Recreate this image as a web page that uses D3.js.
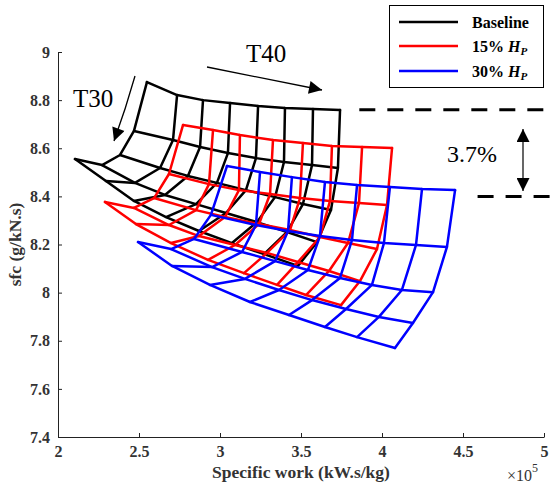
<!DOCTYPE html>
<html>
<head>
<meta charset="utf-8">
<script src="https://cdn.jsdelivr.net/npm/d3@7"></script>
<style>
  body { margin: 0; background: #fff; }
  svg { display: block; font-family: "Liberation Serif", "Times New Roman", serif; }
  .tick text { font-weight: bold; font-size: 16px; }
  .lbl { font-weight: bold; font-size: 17.5px; }
</style>
</head>
<body>
<div id="chart"></div>
<script>
// sfc vs specific work carpets (rows = constant T30, columns = constant T40)

const xTicks = [2, 2.5, 3, 3.5, 4, 4.5, 5];
const yTicks = [7.4, 7.6, 7.8, 8, 8.2, 8.4, 8.6, 8.8, 9];

// Baseline
const baseSW = [
  [2.549, 2.735, 2.895, 3.062, 3.235, 3.401, 3.574, 3.741],
  [2.469, 2.710, 2.877, 3.049, 3.222, 3.395, 3.568, 3.728],
  [2.383, 2.630, 2.802, 2.981, 3.160, 3.340, 3.512, 3.685],
  [2.272, 2.475, 2.660, 2.852, 3.037, 3.228, 3.414, 3.599],
  [2.105, 2.296, 2.469, 2.667, 2.870, 3.074, 3.272, 3.481]
];
const baseSFC = [
  [8.875, 8.821, 8.800, 8.788, 8.776, 8.767, 8.763, 8.759],
  [8.672, 8.634, 8.605, 8.580, 8.559, 8.543, 8.530, 8.518],
  [8.572, 8.518, 8.485, 8.456, 8.426, 8.397, 8.368, 8.343],
  [8.530, 8.456, 8.406, 8.368, 8.331, 8.293, 8.252, 8.210],
  [8.555, 8.464, 8.381, 8.314, 8.256, 8.206, 8.160, 8.111]
];

// 15% H_P
const h15SW = [
  [2.772, 2.957, 3.123, 3.327, 3.512, 3.691, 3.877, 4.062],
  [2.685, 2.932, 3.117, 3.309, 3.494, 3.679, 3.858, 4.031],
  [2.593, 2.852, 3.031, 3.241, 3.432, 3.617, 3.790, 3.969],
  [2.469, 2.685, 2.870, 3.093, 3.290, 3.481, 3.673, 3.864],
  [2.290, 2.481, 2.698, 2.926, 3.148, 3.352, 3.531, 3.747]
];
const h15SFC = [
  [8.697, 8.676, 8.655, 8.634, 8.622, 8.609, 8.605, 8.601],
  [8.493, 8.451, 8.426, 8.410, 8.393, 8.381, 8.372, 8.364],
  [8.393, 8.343, 8.314, 8.285, 8.260, 8.231, 8.206, 8.181],
  [8.352, 8.281, 8.235, 8.198, 8.165, 8.127, 8.090, 8.048],
  [8.377, 8.285, 8.206, 8.136, 8.081, 8.032, 7.990, 7.948]
];

// 30% H_P
const h30SW = [
  [3.043, 3.247, 3.444, 3.648, 3.846, 4.049, 4.247, 4.451],
  [2.944, 3.222, 3.420, 3.617, 3.815, 4.012, 4.210, 4.401],
  [2.840, 3.136, 3.340, 3.543, 3.741, 3.938, 4.123, 4.315],
  [2.698, 2.951, 3.154, 3.364, 3.568, 3.778, 3.981, 4.191],
  [2.494, 2.704, 2.938, 3.185, 3.426, 3.648, 3.846, 4.080]
];
const h30SFC = [
  [8.526, 8.501, 8.480, 8.460, 8.447, 8.439, 8.431, 8.426],
  [8.323, 8.281, 8.256, 8.235, 8.219, 8.206, 8.198, 8.190],
  [8.223, 8.169, 8.131, 8.094, 8.061, 8.032, 8.011, 8.002],
  [8.181, 8.106, 8.057, 8.011, 7.969, 7.932, 7.899, 7.874],
  [8.210, 8.111, 8.032, 7.961, 7.907, 7.857, 7.815, 7.770]
];

const carpets = [
  { name: "Baseline", color: "#000000", sw: baseSW, sfc: baseSFC },
  { name: "15%", color: "#ff0000", sw: h15SW, sfc: h15SFC },
  { name: "30%", color: "#0000ff", sw: h30SW, sfc: h30SFC }
];

// 3.7% reference levels
const refLevels = [{ sfc: 8.76, from: 3.86 }, { sfc: 8.40, from: 4.59 }];

const W = 553, H = 489;
const svg = d3.select("#chart").append("svg").attr("width", W).attr("height", H);

const x = d3.scaleLinear().domain([2, 5]).range([58, 544]);
const y = d3.scaleLinear().domain([7.4, 9]).range([437, 52]);

// axes (MATLAB style, inward ticks, box off)
const gx = svg.append("g").attr("transform", `translate(0,${y(7.4)})`)
  .call(d3.axisBottom(x).tickValues(xTicks).tickFormat(d3.format("~g")).tickSizeInner(-4).tickSizeOuter(0).tickPadding(9));
const gy = svg.append("g").attr("transform", `translate(${x(2)},0)`)
  .call(d3.axisLeft(y).tickValues(yTicks).tickFormat(d3.format("~g")).tickSizeInner(-4).tickSizeOuter(0).tickPadding(8));
[gx, gy].forEach(g => {
  g.selectAll("path, line").attr("stroke", "#222");
  g.selectAll("text").attr("fill", "#333").style("font-family", "Liberation Serif, serif");
});

svg.append("text").attr("class", "lbl").attr("text-anchor", "middle")
  .attr("x", (x(2) + x(5)) / 2).attr("y", 478).attr("fill", "#333").text("Specific work (kW.s/kg)");
svg.append("text").attr("class", "lbl").attr("text-anchor", "middle")
  .attr("transform", `translate(21,${(y(7.4) + y(9)) / 2}) rotate(-90)`).attr("fill", "#333").text("sfc (g/kN.s)");
const exp = svg.append("text").attr("x", 507).attr("y", 481).attr("font-size", 16).attr("fill", "#333");
exp.append("tspan").text("×10");
exp.append("tspan").attr("font-size", 12).attr("dy", -9).text("5");

// carpets
const line = d3.line().x(d => x(d[0])).y(d => y(d[1]));
carpets.forEach(c => {
  const g = svg.append("g").attr("fill", "none").attr("stroke", c.color)
    .attr("stroke-width", 2.5).attr("stroke-linejoin", "round").attr("stroke-linecap", "round");
  const rows = c.sw.map((r, j) => r.map((v, i) => [v, c.sfc[j][i]]));
  const cols = c.sw[0].map((_, i) => rows.map(r => r[i]));
  g.selectAll(".row").data(rows).enter().append("path").attr("d", line);
  g.selectAll(".col").data(cols).enter().append("path").attr("d", line);
});

// arrow markers
const defs = svg.append("defs");
function marker(id, w, h) {
  defs.append("marker").attr("id", id).attr("viewBox", "0 0 10 10")
    .attr("refX", 10).attr("refY", 5).attr("markerUnits", "userSpaceOnUse")
    .attr("markerWidth", w).attr("markerHeight", h).attr("orient", "auto-start-reverse")
    .append("path").attr("d", "M0,0L10,5L0,10Z").attr("fill", "#000");
}
marker("ah", 15, 13);
marker("ah2", 14, 13);

// T30 / T40 annotations
svg.append("path").attr("d", "M135,76 Q126,108 114,141").attr("fill", "none")
  .attr("stroke", "#000").attr("stroke-width", 1.3).attr("marker-end", "url(#ah)");
svg.append("text").attr("x", 73).attr("y", 107).attr("font-size", 25).text("T30");
svg.append("line").attr("x1", 207).attr("y1", 67).attr("x2", 322).attr("y2", 90)
  .attr("stroke", "#000").attr("stroke-width", 1.3).attr("marker-end", "url(#ah)");
svg.append("text").attr("x", 246).attr("y", 62).attr("font-size", 25).text("T40");

// dashed reference lines + 3.7%
svg.selectAll(".ref").data(refLevels).enter().append("line")
  .attr("x1", d => x(d.from)).attr("x2", W).attr("y1", d => y(d.sfc)).attr("y2", d => y(d.sfc))
  .attr("stroke", "#000").attr("stroke-width", 3).attr("stroke-dasharray", "16 12");
svg.append("line").attr("x1", 523).attr("x2", 523).attr("y1", 129).attr("y2", 191)
  .attr("stroke", "#000").attr("stroke-width", 1.2)
  .attr("marker-start", "url(#ah2)").attr("marker-end", "url(#ah2)");
svg.append("text").attr("x", 447).attr("y", 162).attr("font-size", 24).text("3.7%");

// legend
const lg = svg.append("g");
lg.append("rect").attr("x", 389.5).attr("y", 5.5).attr("width", 154).attr("height", 82)
  .attr("fill", "#fff").attr("stroke", "#000").attr("stroke-width", 1);
const legendY = [22, 46, 71];
carpets.forEach((c, k) => {
  lg.append("line").attr("x1", 399).attr("x2", 458).attr("y1", legendY[k]).attr("y2", legendY[k])
    .attr("stroke", c.color).attr("stroke-width", 2.5);
  const t = lg.append("text").attr("x", 472).attr("y", legendY[k] + 6)
    .attr("font-size", 16).attr("font-weight", "bold");
  if (k === 0) t.text(c.name);
  else {
    t.append("tspan").text(c.name + " ");
    t.append("tspan").attr("font-style", "italic").text("H");
    t.append("tspan").attr("font-style", "italic").attr("font-size", 11).attr("dy", 3).text("P");
  }
});
</script>
</body>
</html>
